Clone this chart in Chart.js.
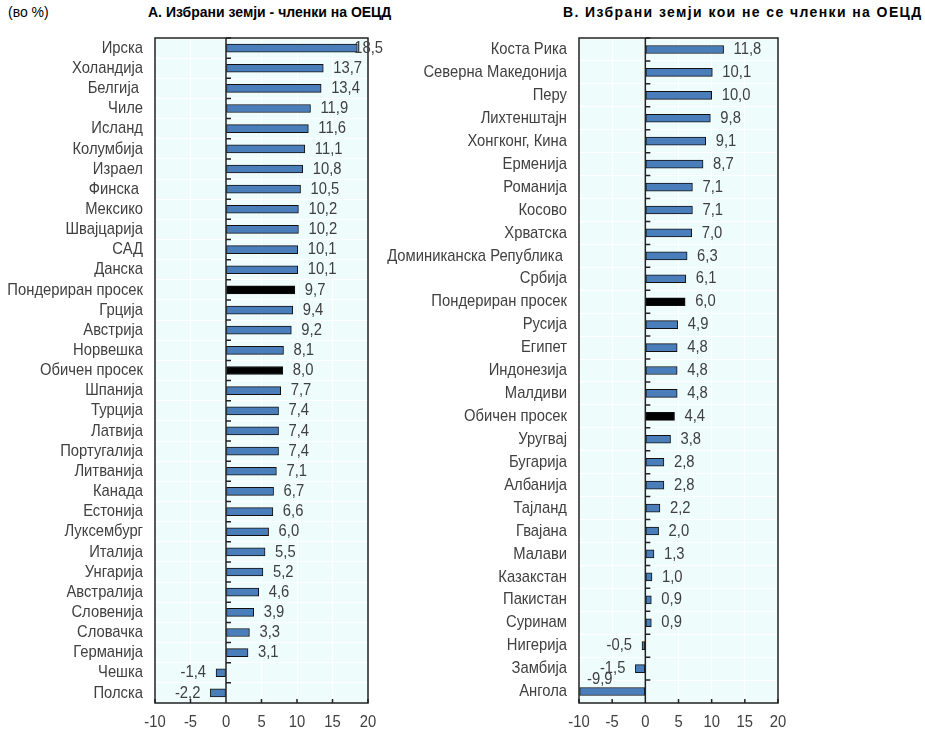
<!DOCTYPE html>
<html>
<head>
<meta charset="utf-8">
<script src="https://cdn.jsdelivr.net/npm/chart.js@4/dist/chart.umd.min.js"></script>
<style>
    body { margin: 0; background: #fff; width: 925px; height: 736px; overflow: hidden; position: relative; font-family: "Liberation Sans", Arial, sans-serif; }
    .txt { position: absolute; top: 4px; font-size: 14px; color: #000; white-space: nowrap; }
    .bold { font-weight: bold; }
    .box { position: absolute; top: 30px; height: 706px; }
</style>
</head>
<body>
<div class="txt" style="left:8px;">(во %)</div>
<div class="txt bold" style="left:148px;">А. Избрани земји - членки на ОЕЦД</div>
<div class="txt bold" style="left:563px; letter-spacing:1.4px;">В. Избрани земји кои не се членки на ОЕЦД</div>
<div class="box" style="left:0; width:388px;"><canvas id="chartA"></canvas></div>
<div class="box" style="left:380px; width:420px;"><canvas id="chartB"></canvas></div>
<script>
// Panel A: OECD members
const oecdLabels = ['Ирска', 'Холандија', 'Белгија ', 'Чиле', 'Исланд', 'Колумбија', 'Израел', 'Финска ', 'Мексико', 'Швајцарија', 'САД', 'Данска', 'Пондериран просек', 'Грција', 'Австрија', 'Норвешка', 'Обичен просек', 'Шпанија', 'Турција', 'Латвија', 'Португалија', 'Литванија', 'Канада', 'Естонија', 'Луксембург', 'Италија', 'Унгарија', 'Австралија', 'Словенија', 'Словачка', 'Германија', 'Чешка', 'Полска'];
const oecdValues = [18.5, 13.7, 13.4, 11.9, 11.6, 11.1, 10.8, 10.5, 10.2, 10.2, 10.1, 10.1, 9.7, 9.4, 9.2, 8.1, 8.0, 7.7, 7.4, 7.4, 7.4, 7.1, 6.7, 6.6, 6.0, 5.5, 5.2, 4.6, 3.9, 3.3, 3.1, -1.4, -2.2];

// Panel B: non-members
const otherLabels = ['Коста Рика', 'Северна Македонија', 'Перу', 'Лихтенштајн', 'Хонгконг, Кина', 'Ерменија', 'Романија', 'Косово', 'Хрватска', 'Доминиканска Република ', 'Србија', 'Пондериран просек', 'Русија', 'Египет', 'Индонезија', 'Малдиви', 'Обичен просек', 'Уругвај', 'Бугарија', 'Албанија', 'Тајланд', 'Гвајана', 'Малави', 'Казакстан', 'Пакистан', 'Суринам', 'Нигерија', 'Замбија', 'Ангола'];
const otherValues = [11.8, 10.1, 10.0, 9.8, 9.1, 8.7, 7.1, 7.1, 7.0, 6.3, 6.1, 6.0, 4.9, 4.8, 4.8, 4.8, 4.4, 3.8, 2.8, 2.8, 2.2, 2.0, 1.3, 1.0, 0.9, 0.9, -0.5, -1.5, -9.9];

const xMin = -10;
const xMax = 20;
const xStep = 5;

const textColor = '#404040';
const fontCss = '17px "Liberation Sans", Arial, sans-serif';
const squeeze = 0.87; // the original uses a condensed face

// draws condensed text; align 'left' | 'right' | 'center'
const drawText = (ctx, txt, x, y, align) => {
    const w = ctx.measureText(txt).width * squeeze;
    let sx = x;
    if (align === 'right') sx = x - w;
    if (align === 'center') sx = x - w / 2;
    ctx.save();
    ctx.translate(sx, y);
    ctx.scale(squeeze, 1);
    ctx.fillText(txt, 0, 0);
    ctx.restore();
    return w;
};

const panelDecor = {
    id: 'panelDecor',
    beforeDraw(chart) {
        const { ctx, chartArea: a } = chart;
        ctx.save();
        ctx.fillStyle = '#effcfc';
        ctx.fillRect(a.left, a.top, a.right - a.left, a.bottom - a.top);
        ctx.restore();
    },
    afterDatasetsDraw(chart) {
        const { ctx, chartArea: a, scales } = chart;
        const xs = scales.x, ys = scales.y;
        const x0 = xs.getPixelForValue(0);
        ctx.save();
        ctx.strokeStyle = '#222';
        ctx.lineWidth = 1.5;
        // zero line and category ticks
        ctx.beginPath();
        ctx.moveTo(x0, a.top);
        ctx.lineTo(x0, a.bottom);
        const n = chart.data.labels.length;
        const step = (a.bottom - a.top) / n;
        for (let i = 0; i < n; i++) {
            const y = ys.getPixelForValue(i) - step / 2;
            ctx.moveTo(x0, y);
            ctx.lineTo(x0 + 5, y);
        }
        // inner x ticks
        xs.ticks.forEach(t => {
            const x = xs.getPixelForValue(t.value);
            ctx.moveTo(x, a.bottom);
            ctx.lineTo(x, a.bottom - 4);
        });
        ctx.stroke();
        ctx.strokeRect(a.left, a.top, a.right - a.left, a.bottom - a.top);

        ctx.font = fontCss;
        ctx.fillStyle = textColor;
        ctx.textAlign = 'left';
        ctx.textBaseline = 'middle';

        // category labels
        chart.data.labels.forEach((l, i) => {
            drawText(ctx, l, a.left - 12, ys.getPixelForValue(i), 'right');
        });
        // x tick labels
        xs.ticks.forEach(t => {
            drawText(ctx, String(t.value), xs.getPixelForValue(t.value), a.bottom + 19, 'center');
        });

        // value labels
        const meta = chart.getDatasetMeta(0);
        const values = chart.data.datasets[0].data;
        meta.data.forEach((bar, i) => {
            const v = values[i];
            const txt = v.toFixed(1).replace('.', ',');
            const w = ctx.measureText(txt).width * squeeze;
            let x, y = bar.y;
            if (v >= 0) {
                x = bar.x + 10;
                if (x + w > chart.width - 5) x = chart.width - 5 - w;
            } else {
                x = bar.x - 10 - w;
                if (x < a.left) {
                    x = a.left + 8;
                    y = bar.y - 12;
                }
            }
            drawText(ctx, txt, x, y, 'left');
        });
        ctx.restore();
    }
};

const makePanel = (id, labels, values, yWidth, padRight) => {
    const colors = labels.map(l => l.includes('просек') ? '#000000' : '#4a7ebb');
    return new Chart(document.getElementById(id), {
        type: 'bar',
        data: {
            labels: labels,
            datasets: [{
                data: values,
                backgroundColor: colors,
                borderColor: '#111',
                borderWidth: 1,
                borderSkipped: false,
                barThickness: 8
            }]
        },
        options: {
            indexAxis: 'y',
            responsive: true,
            maintainAspectRatio: false,
            animation: false,
            layout: { padding: { top: 8, right: padRight, bottom: 3, left: 0 } },
            scales: {
                x: {
                    min: xMin,
                    max: xMax,
                    ticks: { stepSize: xStep, display: false },
                    grid: { color: '#ffffff', lineWidth: 1, drawTicks: false },
                    border: { display: false },
                    afterFit: (scale) => { scale.height = 30; }
                },
                y: {
                    ticks: { display: false, autoSkip: false },
                    grid: { color: '#ffffff', lineWidth: 1, drawTicks: false, offset: true },
                    border: { display: false },
                    afterFit: (scale) => { scale.width = yWidth; }
                }
            },
            plugins: {
                legend: { display: false },
                tooltip: { enabled: false }
            }
        },
        plugins: [panelDecor]
    });
};

makePanel('chartA', oecdLabels, oecdValues, 155, 20);
makePanel('chartB', otherLabels, otherValues, 199, 22);
</script>
</body>
</html>
